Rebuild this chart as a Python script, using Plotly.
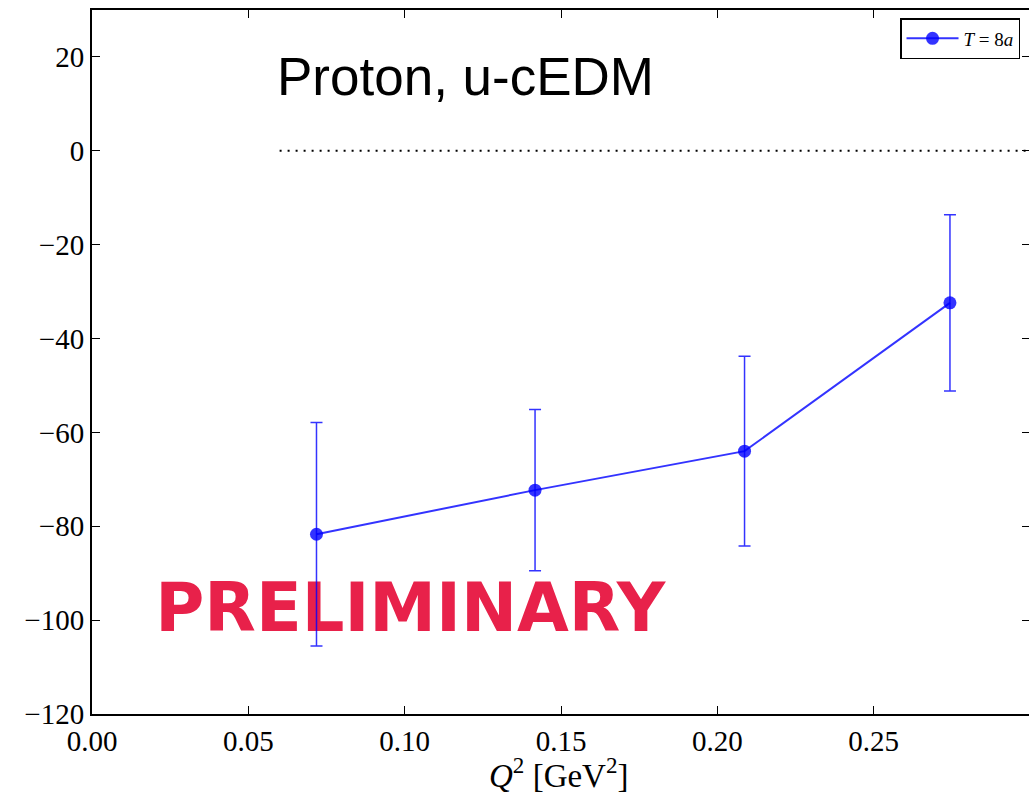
import plotly.graph_objects as go

# ---- data ----
q2 = [0.0718, 0.1417, 0.2087, 0.2744]
edm = [-81.7, -72.3, -64.0, -32.4]
edm_err = [23.8, 17.2, 20.2, 18.8]
series_name = "<i>T</i> = 8<i>a</i>"
zero_line_x = [0.06, 0.30]
zero_line_y = [0, 0]
x_ticks = [0.00, 0.05, 0.10, 0.15, 0.20, 0.25]
x_tick_labels = ["0.00", "0.05", "0.10", "0.15", "0.20", "0.25"]
y_ticks = [20, 0, -20, -40, -60, -80, -100, -120]

BLUE = "rgba(0,0,255,0.8)"

# plot area: x 92..1032 (right spine just outside the 1029 window), y 10..714
W, H = 1032, 798
ML, MR, MT, MB = 92, 0, 10, 84
PW = W - ML - MR
PH = H - MT - MB

fig = go.Figure()

# watermark under the data
fig.add_trace(go.Scatter(
    x=[0.1018], y=[-98.8], mode="text", text=["PRELIMINARY"],
    textfont=dict(family="DejaVu Sans", size=67, color="#E8214A", weight="bold"),
    showlegend=False, hoverinfo="skip"))

fig.add_trace(go.Scatter(
    x=zero_line_x, y=zero_line_y, mode="lines",
    line=dict(color="black", width=2, dash="2px,6px"),
    showlegend=False, hoverinfo="skip"))

fig.add_trace(go.Scatter(
    x=q2, y=edm, mode="lines+markers", name=series_name,
    line=dict(color=BLUE, width=2),
    marker=dict(color=BLUE, size=13),
    error_y=dict(type="data", array=edm_err, visible=True, color=BLUE,
                 thickness=1.5, width=6)))

fig.add_annotation(
    xref="paper", yref="paper", x=(275 - 92) / PW, y=(714 - 76) / PH,
    xanchor="left", yanchor="middle", showarrow=False,
    text="Proton, u-cEDM",
    font=dict(family="Liberation Sans", size=53, color="black"))

fig.add_annotation(
    xref="paper", yref="paper", x=(560 - 92) / PW, y=-(773 - 714) / PH,
    xanchor="center", yanchor="middle", showarrow=False,
    text="<i>Q</i><sup>2</sup> [GeV<sup>2</sup>]",
    font=dict(family="Liberation Serif", size=33, color="black"))

axis_font = dict(family="Liberation Serif", size=29, color="black")

fig.update_layout(
    width=W, height=H,
    margin=dict(l=ML, r=MR, t=MT, b=MB),
    paper_bgcolor="white", plot_bgcolor="white",
    showlegend=True,
    legend=dict(x=(1022 - 92) / PW, y=(714 - 18) / PH, xanchor="right", yanchor="top",
                bordercolor="black", borderwidth=1.5, bgcolor="white",
                font=dict(family="Liberation Serif", size=19, color="black"),
                itemwidth=52, tracegroupgap=0),
    xaxis=dict(range=[0, 0.30], tickvals=x_ticks, ticktext=x_tick_labels,
               showgrid=False, zeroline=False, showline=True, linecolor="black",
               linewidth=2, mirror="ticks", ticks="inside", ticklen=8,
               tickcolor="black", tickfont=axis_font),
    yaxis=dict(range=[-120, 30], tickvals=y_ticks,
               showgrid=False, zeroline=False, showline=True, linecolor="black",
               linewidth=2, mirror="ticks", ticks="inside", ticklen=8,
               tickcolor="black", tickfont=axis_font),
)

fig.write_html(
    "out.html",
    config={"displayModeBar": False},
    post_script="document.body.style.margin='0';document.body.style.overflow='hidden';",
)
